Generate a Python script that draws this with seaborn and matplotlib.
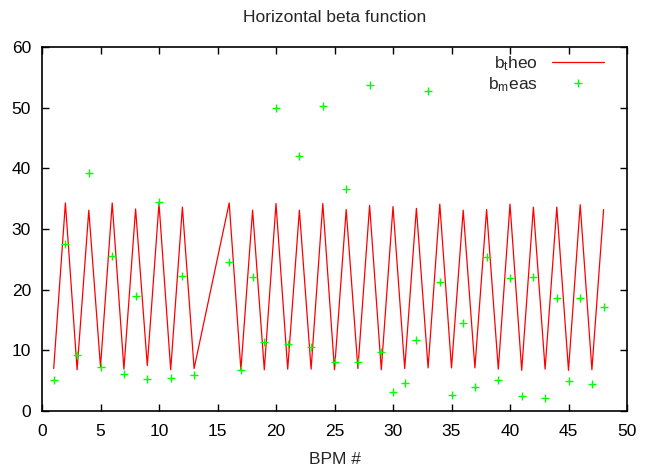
import matplotlib
matplotlib.use("Agg")
import matplotlib.pyplot as plt
import seaborn as sns
import pandas as pd

# Data
bpm_theo = [1, 2, 3, 4, 5, 6, 7, 8, 9, 10, 11, 12, 13,
            16, 17, 18, 19, 20, 21, 22, 23, 24, 25, 26, 27, 28, 29, 30, 31, 32,
            33, 34, 35, 36, 37, 38, 39, 40, 41, 42, 43, 44, 45, 46, 47, 48]
beta_theo = [7.0, 34.3, 6.8, 33.1, 7.3, 34.3, 6.9, 33.3, 7.5, 34.2, 6.8, 33.6, 7.0,
             34.3, 6.8, 33.1, 6.8, 34.2, 6.9, 33.1, 6.9, 34.2, 6.8, 33.2, 7.0, 33.9,
             6.8, 33.7, 7.0, 33.4, 7.1, 34.1, 7.1, 33.1, 7.1, 33.2, 6.9, 34.1, 6.7,
             33.6, 6.9, 33.6, 6.7, 34.0, 6.8, 33.2]
bpm_meas = bpm_theo
beta_meas = [5.1, 27.6, 9.2, 39.3, 7.2, 25.6, 6.1, 18.9, 5.3, 34.5, 5.4, 22.2, 6.0,
             24.5, 6.8, 22.1, 11.4, 49.9, 11.0, 42.0, 10.6, 50.3, 8.1, 36.6, 8.0, 53.7,
             9.8, 3.2, 4.6, 11.7, 52.8, 21.3, 2.6, 14.5, 4.0, 25.4, 5.1, 21.9, 2.5,
             22.1, 2.1, 18.6, 5.0, 18.6, 4.4, 17.1]
x_ticks = [0, 5, 10, 15, 20, 25, 30, 35, 40, 45, 50]
y_ticks = [0, 10, 20, 30, 40, 50, 60]

sns.set_theme(style="ticks")
plt.rcParams['font.family'] = ['Liberation Sans', 'DejaVu Sans']
plt.rcParams['mathtext.fontset'] = 'custom'
plt.rcParams['mathtext.rm'] = 'Liberation Sans'
plt.rcParams['mathtext.it'] = 'Liberation Sans'
plt.rcParams['mathtext.bf'] = 'Liberation Sans'

df_t = pd.DataFrame({"bpm": bpm_theo, "beta": beta_theo})
df_m = pd.DataFrame({"bpm": bpm_meas, "beta": beta_meas})

fig = plt.figure(figsize=(6.45, 4.74), dpi=100)
ax = fig.add_axes([42/645, 1-411/474, (627-42)/645, (411-47)/474])

sns.lineplot(data=df_t, x="bpm", y="beta", ax=ax, color="#ff0000", lw=0.9,
             label="b$_{t}$heo", sort=False, estimator=None)
ax.plot(df_m["bpm"], df_m["beta"], linestyle="none", marker="+", color="#00ff00",
        markersize=6, markeredgewidth=1.0, label="b$_{m}$eas")

ax.set_xlim(0, 50)
ax.set_ylim(0, 60)
ax.set_xticks(x_ticks)
ax.set_yticks(y_ticks)
ax.tick_params(direction="in", length=5, width=1, top=True, right=True,
               labelsize=12.5, colors="black", pad=8)
ax.tick_params(axis="x", pad=9)
for s in ax.spines.values():
    s.set_visible(True)
    s.set_linewidth(1.2)
    s.set_color("black")

ax.set_xlabel("BPM #", fontsize=12.5, labelpad=10)
ax.set_ylabel("")
ax.set_title("Horizontal beta function", fontsize=12.5, pad=18)

leg = ax.legend(loc="upper right", bbox_to_anchor=(0.9726, 1.0), frameon=False,
                markerfirst=False, fontsize=12.5, handlelength=3.0,
                labelspacing=0.15, borderaxespad=0.0, handletextpad=0.8)
for t in leg.get_texts():
    t.set_ha("right")

fig.savefig("out.png", dpi=100)
